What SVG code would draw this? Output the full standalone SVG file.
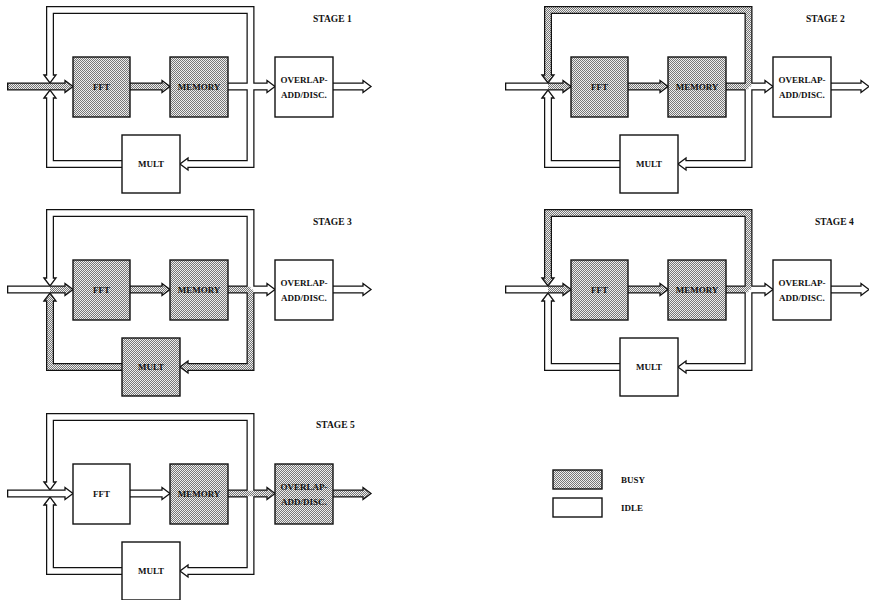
<svg xmlns="http://www.w3.org/2000/svg" width="869" height="600" viewBox="0 0 869 600">
<defs>
<pattern id="dots" width="2" height="2" patternUnits="userSpaceOnUse">
<rect width="2" height="2" fill="#eeeeee"/>
<rect width="1" height="1" fill="#777777"/>
<rect x="1" y="1" width="1" height="1" fill="#777777"/>
</pattern>
</defs>
<style>
.po{fill:none;stroke:#111;stroke-width:8;stroke-linejoin:miter}
.pb{fill:none;stroke:url(#dots);stroke-width:5.5;stroke-linejoin:miter}
.pw{fill:none;stroke:#fff;stroke-width:5.5;stroke-linejoin:miter}
.hb{fill:url(#dots);stroke:#111;stroke-width:1.3;stroke-linejoin:miter}
.hw{fill:#fff;stroke:#111;stroke-width:1.3;stroke-linejoin:miter}
.bb{fill:url(#dots);stroke:#111;stroke-width:1.4}
.bw{fill:#fff;stroke:#111;stroke-width:1.4}
text{font-family:"Liberation Serif","Times New Roman",serif;font-weight:bold;fill:#111}
.lb{font-size:9px;text-anchor:middle}
.st{font-size:9.5px}
.lg{font-size:9px}
</style>
<rect width="869" height="600" fill="#fff"/>

<!-- STAGE 1 -->
<g id="stage1" transform="translate(0,0)">
<g id="s1-connectors">
<path class="po" d="M7,86.5H50M50,86.5H65M130,86.5H162M228,86.5H250.5M250.5,86.5H267M333,86.5H363M250.5,86.5V10H50V75M250.5,86.5V164H188M122,164H50V98"/>
<polygon class="hb" points="65,80.5 73,86.5 65,92.5"/>
<polygon class="hb" points="162,80.5 170,86.5 162,92.5"/>
<polygon class="hw" points="267,80.5 275,86.5 267,92.5"/>
<polygon class="hw" points="363,80.5 371,86.5 363,92.5"/>
<polygon class="hw" points="44,75 50,83 56,75"/>
<polygon class="hw" points="188,158 180,164 188,170"/>
<polygon class="hw" points="44,98 50,90 56,98"/>
<path class="pw" d="M228,86.5H250.5M250.5,86.5H268M333,86.5H364M250.5,86.5V10H50V76M250.5,86.5V164H187M122,164H50V97"/>
<path class="pb" d="M8.3,86.5H50M50,86.5H66M130,86.5H163"/>
</g>
<g id="s1-fft"><rect class="bb" x="73" y="57" width="57" height="60"/><text class="lb" x="101.5" y="90">FFT</text></g>
<g id="s1-memory"><rect class="bb" x="170" y="57" width="58" height="60"/><text class="lb" x="199" y="90">MEMORY</text></g>
<g id="s1-overlap"><rect class="bw" x="275" y="57" width="58" height="60"/><text class="lb" x="304" y="83">OVERLAP-</text><text class="lb" x="304" y="98">ADD/DISC.</text></g>
<g id="s1-mult"><rect class="bw" x="122" y="135" width="58" height="58"/><text class="lb" x="151" y="167">MULT</text></g>
<text class="st" x="313" y="22">STAGE 1</text>
</g>

<!-- STAGE 2 -->
<g id="stage2" transform="translate(498,0)">
<g id="s2-connectors">
<path class="po" d="M7,86.5H50M50,86.5H65M130,86.5H162M228,86.5H250.5M250.5,86.5H267M333,86.5H363M250.5,86.5V10H50V75M250.5,86.5V164H188M122,164H50V98"/>
<polygon class="hb" points="65,80.5 73,86.5 65,92.5"/>
<polygon class="hb" points="162,80.5 170,86.5 162,92.5"/>
<polygon class="hw" points="267,80.5 275,86.5 267,92.5"/>
<polygon class="hw" points="363,80.5 371,86.5 363,92.5"/>
<polygon class="hb" points="44,75 50,83 56,75"/>
<polygon class="hw" points="188,158 180,164 188,170"/>
<polygon class="hw" points="44,98 50,90 56,98"/>
<path class="pw" d="M8.3,86.5H50M250.5,86.5H268M333,86.5H364M250.5,86.5V164H187M122,164H50V97"/>
<path class="pb" d="M50,86.5H66M130,86.5H163M228,86.5H250.5M250.5,86.5V10H50V76"/>
</g>
<g id="s2-fft"><rect class="bb" x="73" y="57" width="57" height="60"/><text class="lb" x="101.5" y="90">FFT</text></g>
<g id="s2-memory"><rect class="bb" x="170" y="57" width="58" height="60"/><text class="lb" x="199" y="90">MEMORY</text></g>
<g id="s2-overlap"><rect class="bw" x="275" y="57" width="58" height="60"/><text class="lb" x="304" y="83">OVERLAP-</text><text class="lb" x="304" y="98">ADD/DISC.</text></g>
<g id="s2-mult"><rect class="bw" x="122" y="135" width="58" height="58"/><text class="lb" x="151" y="167">MULT</text></g>
<text class="st" x="308" y="22">STAGE 2</text>
</g>

<!-- STAGE 3 -->
<g id="stage3" transform="translate(0,203)">
<g id="s3-connectors">
<path class="po" d="M7,86.5H50M50,86.5H65M130,86.5H162M228,86.5H250.5M250.5,86.5H267M333,86.5H363M250.5,86.5V10H50V75M250.5,86.5V164H188M122,164H50V98"/>
<polygon class="hb" points="65,80.5 73,86.5 65,92.5"/>
<polygon class="hb" points="162,80.5 170,86.5 162,92.5"/>
<polygon class="hw" points="267,80.5 275,86.5 267,92.5"/>
<polygon class="hw" points="363,80.5 371,86.5 363,92.5"/>
<polygon class="hw" points="44,75 50,83 56,75"/>
<polygon class="hb" points="188,158 180,164 188,170"/>
<polygon class="hb" points="44,98 50,90 56,98"/>
<path class="pw" d="M8.3,86.5H50M250.5,86.5H268M333,86.5H364M250.5,86.5V10H50V76"/>
<path class="pb" d="M50,86.5H66M130,86.5H163M228,86.5H250.5M250.5,86.5V164H187M122,164H50V97"/>
</g>
<g id="s3-fft"><rect class="bb" x="73" y="57" width="57" height="60"/><text class="lb" x="101.5" y="90">FFT</text></g>
<g id="s3-memory"><rect class="bb" x="170" y="57" width="58" height="60"/><text class="lb" x="199" y="90">MEMORY</text></g>
<g id="s3-overlap"><rect class="bw" x="275" y="57" width="58" height="60"/><text class="lb" x="304" y="83">OVERLAP-</text><text class="lb" x="304" y="98">ADD/DISC.</text></g>
<g id="s3-mult"><rect class="bb" x="122" y="135" width="58" height="58"/><text class="lb" x="151" y="167">MULT</text></g>
<text class="st" x="313" y="22">STAGE 3</text>
</g>

<!-- STAGE 4 -->
<g id="stage4" transform="translate(498,203)">
<g id="s4-connectors">
<path class="po" d="M7,86.5H50M50,86.5H65M130,86.5H162M228,86.5H250.5M250.5,86.5H267M333,86.5H363M250.5,86.5V10H50V75M250.5,86.5V164H188M122,164H50V98"/>
<polygon class="hb" points="65,80.5 73,86.5 65,92.5"/>
<polygon class="hb" points="162,80.5 170,86.5 162,92.5"/>
<polygon class="hw" points="267,80.5 275,86.5 267,92.5"/>
<polygon class="hw" points="363,80.5 371,86.5 363,92.5"/>
<polygon class="hb" points="44,75 50,83 56,75"/>
<polygon class="hw" points="188,158 180,164 188,170"/>
<polygon class="hw" points="44,98 50,90 56,98"/>
<path class="pw" d="M8.3,86.5H50M250.5,86.5H268M333,86.5H364M250.5,86.5V164H187M122,164H50V97"/>
<path class="pb" d="M50,86.5H66M130,86.5H163M228,86.5H250.5M250.5,86.5V10H50V76"/>
</g>
<g id="s4-fft"><rect class="bb" x="73" y="57" width="57" height="60"/><text class="lb" x="101.5" y="90">FFT</text></g>
<g id="s4-memory"><rect class="bb" x="170" y="57" width="58" height="60"/><text class="lb" x="199" y="90">MEMORY</text></g>
<g id="s4-overlap"><rect class="bw" x="275" y="57" width="58" height="60"/><text class="lb" x="304" y="83">OVERLAP-</text><text class="lb" x="304" y="98">ADD/DISC.</text></g>
<g id="s4-mult"><rect class="bw" x="122" y="135" width="58" height="58"/><text class="lb" x="151" y="167">MULT</text></g>
<text class="st" x="317" y="22">STAGE 4</text>
</g>

<!-- STAGE 5 -->
<g id="stage5" transform="translate(0,407)">
<g id="s5-connectors">
<path class="po" d="M7,86.5H50M50,86.5H65M130,86.5H162M228,86.5H250.5M250.5,86.5H267M333,86.5H363M250.5,86.5V10H50V75M250.5,86.5V164H188M122,164H50V98"/>
<polygon class="hw" points="65,80.5 73,86.5 65,92.5"/>
<polygon class="hw" points="162,80.5 170,86.5 162,92.5"/>
<polygon class="hb" points="267,80.5 275,86.5 267,92.5"/>
<polygon class="hb" points="363,80.5 371,86.5 363,92.5"/>
<polygon class="hw" points="44,75 50,83 56,75"/>
<polygon class="hw" points="188,158 180,164 188,170"/>
<polygon class="hw" points="44,98 50,90 56,98"/>
<path class="pw" d="M8.3,86.5H50M50,86.5H66M130,86.5H163M250.5,86.5V10H50V76M250.5,86.5V164H187M122,164H50V97"/>
<path class="pb" d="M228,86.5H250.5M250.5,86.5H268M333,86.5H364"/>
</g>
<g id="s5-fft"><rect class="bw" x="73" y="57" width="57" height="60"/><text class="lb" x="101.5" y="90">FFT</text></g>
<g id="s5-memory"><rect class="bb" x="170" y="57" width="58" height="60"/><text class="lb" x="199" y="90">MEMORY</text></g>
<g id="s5-overlap"><rect class="bb" x="275" y="57" width="58" height="60"/><text class="lb" x="304" y="83">OVERLAP-</text><text class="lb" x="304" y="98">ADD/DISC.</text></g>
<g id="s5-mult"><rect class="bw" x="122" y="135" width="58" height="58"/><text class="lb" x="151" y="167">MULT</text></g>
<text class="st" x="316" y="21">STAGE 5</text>
</g>

<!-- LEGEND -->
<g id="legend-busy"><rect class="bb" x="553" y="470" width="49" height="19"/><text class="lg" x="621" y="483">BUSY</text></g>
<g id="legend-idle"><rect class="bw" x="553" y="498" width="49" height="19"/><text class="lg" x="621" y="511">IDLE</text></g>
</svg>
